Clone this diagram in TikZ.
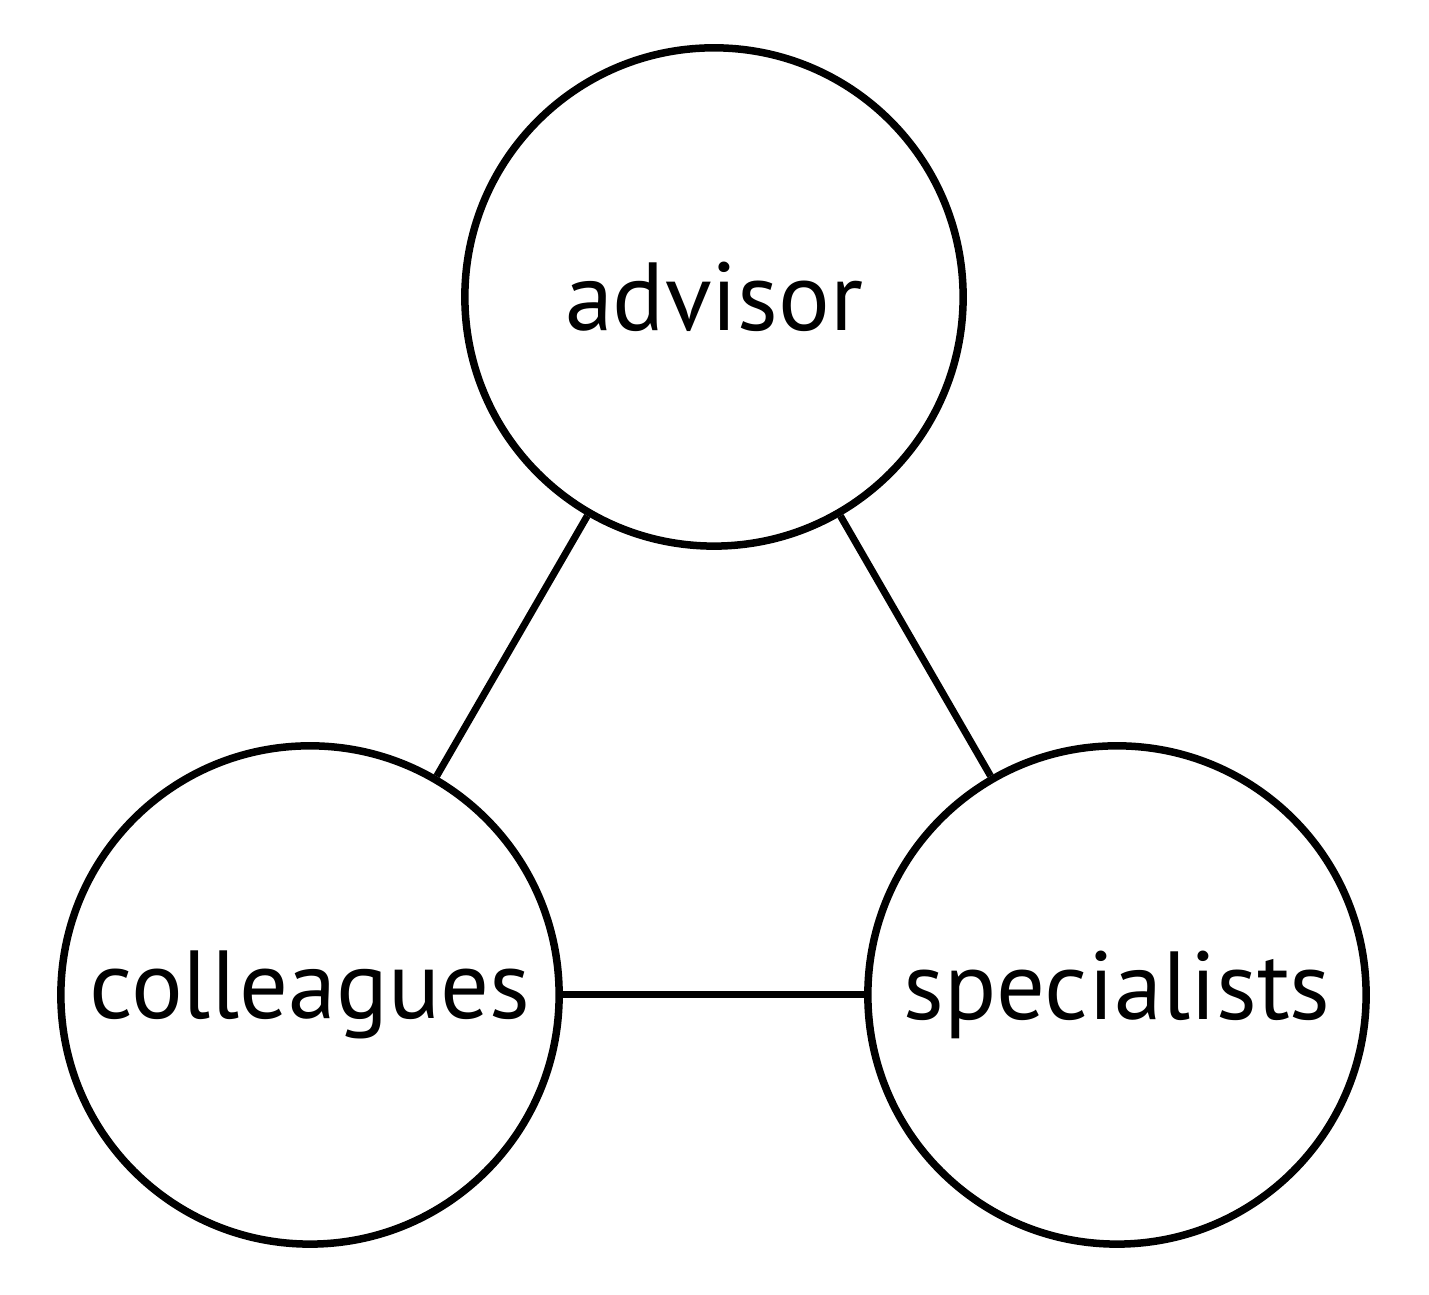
\documentclass[tikz,border=0pt]{standalone}
\usepackage{fontspec}
\setmainfont{PT Sans}
\begin{document}
\begin{tikzpicture}[x=.01cm,y=.01cm,every node/.style={font=\fontsize{27.5}{30}\selectfont},
	actor/.style={circle,draw,line width=.075cm,minimum size=4.98cm,inner sep=0pt},
	link/.style={line width=.07cm}]
		\useasboundingbox(0,0)rectangle(1429,1295);
		\node[actor](advisor)at(714,998){advisor};
		\node[actor](colleagues)at(310,300){colleagues};
		\node[actor](specialists)at(1117,300){specialists};
		\foreach\a/\b in{advisor/colleagues,advisor/specialists,colleagues/specialists}{\draw[link](\a)--(\b);}
		\end{tikzpicture}
\end{document}
